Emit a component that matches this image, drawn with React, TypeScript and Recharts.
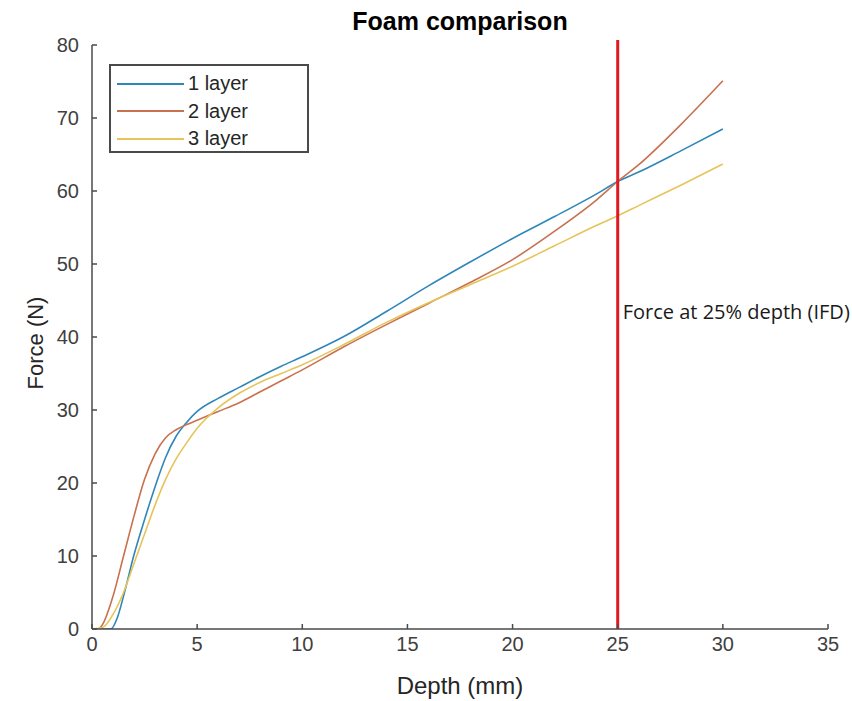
import React from 'react';
import { LineChart, Line, XAxis, YAxis, ReferenceLine, ReferenceDot } from 'recharts';

// Depth (mm) / force (N) readings, one array per foam stack
const depth1 = [0, 0.5, 0.9, 1.2, 1.5, 2, 2.5, 3, 3.5, 4, 4.5, 5, 6, 7, 8, 9, 10, 12, 14, 16, 18, 20, 22, 24, 25, 26, 28, 30];
const force1 = [0, 0, 0, 1.5, 4.5, 10.2, 15, 19.5, 23.5, 26.4, 28.3, 29.8, 31.6, 33.1, 34.6, 36, 37.3, 40.1, 43.5, 47, 50.3, 53.5, 56.5, 59.6, 61.3, 62.6, 65.5, 68.5];

const depth2 = [0, 0.3, 0.5, 1, 1.5, 2, 2.5, 3, 3.5, 4, 4.5, 5, 6, 7, 8, 9, 10, 12, 14, 16, 18, 20, 22, 24, 25, 26, 28, 30];
const force2 = [0, 0, 0.6, 4.5, 10, 15.5, 20.5, 24, 26.2, 27.3, 28, 28.6, 29.8, 31, 32.5, 34, 35.5, 38.7, 41.7, 44.6, 47.5, 50.6, 54.5, 58.8, 61.3, 63.6, 69.1, 75.1];

const depth3 = [0, 0.5, 1, 1.5, 2, 2.5, 3, 3.5, 4, 4.5, 5, 6, 7, 8, 9, 10, 12, 14, 16, 18, 20, 22, 24, 25, 26, 28, 30];
const force3 = [0, 0.2, 2, 5, 9, 13, 17, 20.5, 23.3, 25.5, 27.5, 30.3, 32.3, 33.8, 35, 36.2, 39, 42, 44.7, 47.2, 49.7, 52.5, 55.3, 56.6, 58, 60.8, 63.7];

const seriesNames = ['1 layer', '2 layer', '3 layer'];
const seriesColors = ['#2f87b9', '#c8714f', '#e6c459'];

const xTicks = [0, 5, 10, 15, 20, 25, 30, 35];
const yTicks = [0, 10, 20, 30, 40, 50, 60, 70, 80];

const ifdDepth = 25;
const ifdLabel = 'Force at 25% depth (IFD)';

const toPoints = (xs: number[], ys: number[]) => xs.map((x, i) => ({ x, y: ys[i] }));

const series = [
    toPoints(depth1, force1),
    toPoints(depth2, force2),
    toPoints(depth3, force3),
];

const AXIS_COLOR = '#4a4a4a';
const FONT = '"Liberation Sans", Arial, sans-serif';

// legend sits inside the axes, top left, like the matlab one
const LegendBox = () => (
    <div
        style={{
            position: 'absolute',
            left: 109,
            top: 64,
            width: 200,
            height: 89,
            border: `2px solid ${AXIS_COLOR}`,
            boxSizing: 'border-box',
            background: '#fff',
            padding: '4px 0 0 6px',
            fontFamily: FONT,
            fontSize: 20,
            color: '#262626',
        }}
    >
        {seriesNames.map((name, i) => (
            <div key={name} style={{ display: 'flex', alignItems: 'center', height: 27.5 }}>
                <div style={{ width: 67, height: 2, background: seriesColors[i], marginRight: 4 }} />
                <span>{name}</span>
            </div>
        ))}
    </div>
);

const YLabel = ({ viewBox }: any) => {
    const cy = viewBox.y + viewBox.height / 2 + 6;
    return (
        <text
            x={35}
            y={cy}
            transform={`rotate(-90, 35, ${cy})`}
            textAnchor="middle"
            dominantBaseline="central"
            fill="#262626"
            style={{ fontFamily: FONT, fontSize: 22 }}
        >
            Force (N)
        </text>
    );
};

export default function App() {
    return (
        <div style={{ position: 'absolute', left: 0, top: 0, width: 852, height: 701, background: '#fff' }}>
            <div
                style={{
                    position: 'absolute',
                    left: 0,
                    width: 920,
                    top: 7,
                    textAlign: 'center',
                    fontFamily: FONT,
                    fontWeight: 700,
                    fontSize: 25,
                    color: '#000',
                    lineHeight: '29px',
                }}
            >
                Foam comparison
            </div>
            <LineChart width={852} height={701} margin={{ top: 45, right: 24, bottom: 0, left: 0 }}>
                <XAxis
                    type="number"
                    dataKey="x"
                    domain={[0, 35]}
                    ticks={xTicks}
                    height={72}
                    stroke={AXIS_COLOR}
                    strokeWidth={1.5}
                    tickSize={-5}
                    tickMargin={13}
                    tick={{ fill: '#404040', fontSize: 20, fontFamily: FONT }}
                    allowDataOverflow
                    label={{ value: 'Depth (mm)', position: 'insideBottom', offset: 7, fill: '#262626', fontSize: 24, fontFamily: FONT }}
                />
                <YAxis
                    type="number"
                    domain={[0, 80]}
                    ticks={yTicks}
                    width={92}
                    stroke={AXIS_COLOR}
                    strokeWidth={1.5}
                    tickSize={-5}
                    tickMargin={18}
                    tick={{ fill: '#404040', fontSize: 20, fontFamily: FONT }}
                    allowDataOverflow
                    label={<YLabel />}
                />
                {series.map((pts, i) => (
                    <Line
                        key={seriesNames[i]}
                        data={pts}
                        dataKey="y"
                        name={seriesNames[i]}
                        type="monotone"
                        stroke={seriesColors[i]}
                        strokeWidth={1.6}
                        dot={false}
                        isAnimationActive={false}
                    />
                ))}
                <ReferenceLine
                    segment={[{ x: ifdDepth, y: 0 }, { x: ifdDepth, y: 80.7 }]}
                    stroke="#dd1a1f"
                    strokeWidth={3}
                    ifOverflow="visible"
                />
                <ReferenceDot
                    x={ifdDepth}
                    y={43.4}
                    r={1}
                    fill="none"
                    stroke="none"
                    label={{ value: ifdLabel, position: 'right', offset: 4, fill: '#1a1a1a', fontSize: 20, fontFamily: '"Open Sans", "Noto Sans", sans-serif' }}
                />
            </LineChart>
            <LegendBox />
        </div>
    );
}
